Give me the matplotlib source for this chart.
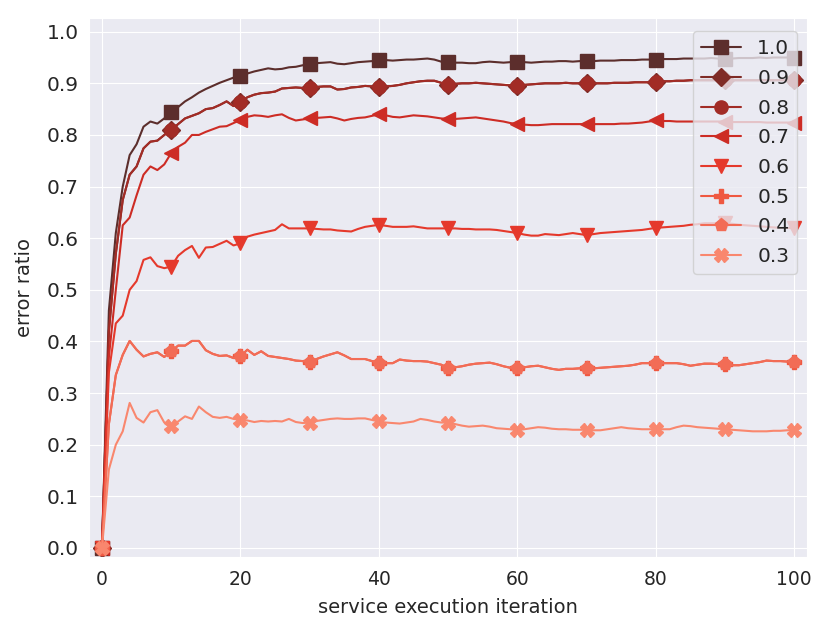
import matplotlib
matplotlib.use("Agg")
import matplotlib.pyplot as plt
import seaborn as sns

# iterations 0..100
iterations = list(range(101))

ratio_10 = [0.0, 0.46, 0.61, 0.70, 0.761, 0.782, 0.816, 0.826, 0.822, 0.832,
            0.845, 0.854, 0.865, 0.873, 0.882, 0.889, 0.895, 0.901, 0.906, 0.911,
            0.914, 0.919, 0.923, 0.926, 0.929, 0.927, 0.928, 0.931, 0.932, 0.935,
            0.937, 0.939, 0.940, 0.941, 0.938, 0.937, 0.939, 0.941, 0.942, 0.943,
            0.945, 0.945, 0.944, 0.945, 0.946, 0.946, 0.947, 0.948, 0.946, 0.942,
            0.941, 0.940, 0.940, 0.939, 0.939, 0.941, 0.942, 0.941, 0.940, 0.941,
            0.942, 0.941, 0.940, 0.941, 0.942, 0.942, 0.943, 0.943, 0.942, 0.943,
            0.943, 0.943, 0.944, 0.944, 0.944, 0.945, 0.945, 0.945, 0.946, 0.946,
            0.946, 0.947, 0.947, 0.947, 0.948, 0.948, 0.948, 0.948, 0.949, 0.948,
            0.948, 0.948, 0.949, 0.949, 0.949, 0.950, 0.949, 0.950, 0.950, 0.950,
            0.950]

ratio_09 = [0.0, 0.42, 0.57, 0.674, 0.723, 0.739, 0.774, 0.787, 0.789, 0.800,
            0.810, 0.821, 0.832, 0.837, 0.842, 0.850, 0.852, 0.858, 0.865, 0.856,
            0.863, 0.873, 0.878, 0.881, 0.882, 0.884, 0.890, 0.891, 0.892, 0.891,
            0.890, 0.893, 0.894, 0.894, 0.888, 0.889, 0.892, 0.893, 0.895, 0.894,
            0.892, 0.894, 0.895, 0.897, 0.900, 0.902, 0.904, 0.905, 0.905, 0.901,
            0.897, 0.899, 0.900, 0.900, 0.901, 0.900, 0.899, 0.898, 0.897, 0.896,
            0.895, 0.897, 0.898, 0.899, 0.900, 0.900, 0.900, 0.901, 0.900, 0.900,
            0.900, 0.900, 0.900, 0.900, 0.901, 0.901, 0.901, 0.902, 0.902, 0.902,
            0.903, 0.904, 0.904, 0.905, 0.905, 0.906, 0.906, 0.906, 0.906, 0.906,
            0.906, 0.906, 0.906, 0.906, 0.906, 0.906, 0.906, 0.906, 0.906, 0.906,
            0.906]

# 0.8 lies exactly on top of 0.9 in the picture
ratio_08 = list(ratio_09)

ratio_07 = [0.0, 0.37, 0.50, 0.625, 0.640, 0.683, 0.723, 0.739, 0.732, 0.743,
            0.765, 0.777, 0.785, 0.800, 0.800, 0.806, 0.811, 0.816, 0.817, 0.823,
            0.829, 0.835, 0.838, 0.837, 0.835, 0.838, 0.840, 0.833, 0.828, 0.830,
            0.832, 0.833, 0.834, 0.835, 0.832, 0.828, 0.831, 0.833, 0.834, 0.837,
            0.840, 0.838, 0.835, 0.834, 0.836, 0.838, 0.837, 0.836, 0.834, 0.832,
            0.831, 0.831, 0.832, 0.833, 0.834, 0.832, 0.830, 0.828, 0.826, 0.823,
            0.821, 0.820, 0.819, 0.819, 0.820, 0.821, 0.821, 0.821, 0.821, 0.821,
            0.821, 0.821, 0.821, 0.821, 0.821, 0.822, 0.822, 0.823, 0.824, 0.826,
            0.828, 0.827, 0.827, 0.826, 0.826, 0.826, 0.826, 0.826, 0.826, 0.826,
            0.826, 0.825, 0.825, 0.825, 0.825, 0.825, 0.824, 0.824, 0.824, 0.824,
            0.824]

ratio_06 = [0.0, 0.34, 0.435, 0.450, 0.500, 0.517, 0.558, 0.563, 0.546, 0.542,
            0.545, 0.566, 0.577, 0.585, 0.562, 0.582, 0.583, 0.589, 0.595, 0.586,
            0.590, 0.603, 0.607, 0.610, 0.613, 0.616, 0.627, 0.619, 0.619, 0.619,
            0.619, 0.618, 0.617, 0.617, 0.615, 0.614, 0.613, 0.618, 0.622, 0.624,
            0.626, 0.624, 0.622, 0.622, 0.622, 0.623, 0.621, 0.619, 0.619, 0.619,
            0.619, 0.619, 0.618, 0.618, 0.617, 0.617, 0.617, 0.616, 0.614, 0.612,
            0.610, 0.607, 0.605, 0.605, 0.608, 0.607, 0.606, 0.608, 0.610, 0.608,
            0.606, 0.608, 0.610, 0.611, 0.612, 0.613, 0.614, 0.615, 0.616, 0.618,
            0.620, 0.621, 0.622, 0.623, 0.624, 0.626, 0.627, 0.629, 0.629, 0.629,
            0.629, 0.628, 0.626, 0.625, 0.624, 0.623, 0.622, 0.621, 0.620, 0.620,
            0.619]

ratio_04 = [0.0, 0.24, 0.335, 0.374, 0.401, 0.384, 0.371, 0.376, 0.379, 0.370,
            0.381, 0.392, 0.392, 0.401, 0.401, 0.383, 0.376, 0.372, 0.373, 0.368,
            0.371, 0.384, 0.374, 0.381, 0.372, 0.370, 0.368, 0.366, 0.363, 0.362,
            0.361, 0.366, 0.371, 0.375, 0.379, 0.373, 0.366, 0.366, 0.366, 0.362,
            0.359, 0.358, 0.358, 0.365, 0.363, 0.362, 0.362, 0.361, 0.358, 0.355,
            0.349, 0.350, 0.352, 0.355, 0.357, 0.358, 0.359, 0.356, 0.352, 0.349,
            0.348, 0.350, 0.352, 0.353, 0.350, 0.347, 0.345, 0.347, 0.347, 0.348,
            0.348, 0.348, 0.349, 0.350, 0.351, 0.352, 0.353, 0.355, 0.358, 0.358,
            0.358, 0.358, 0.358, 0.358, 0.356, 0.353, 0.355, 0.357, 0.357, 0.356,
            0.356, 0.354, 0.354, 0.356, 0.358, 0.360, 0.363, 0.362, 0.362, 0.361,
            0.361]

# 0.5 lies exactly under 0.4
ratio_05 = list(ratio_04)

ratio_03 = [0.0, 0.152, 0.200, 0.226, 0.281, 0.252, 0.243, 0.263, 0.267, 0.243,
            0.237, 0.245, 0.255, 0.250, 0.274, 0.263, 0.254, 0.252, 0.254, 0.250,
            0.248, 0.247, 0.244, 0.246, 0.245, 0.246, 0.245, 0.250, 0.244, 0.242,
            0.243, 0.246, 0.248, 0.250, 0.251, 0.250, 0.250, 0.251, 0.251, 0.248,
            0.245, 0.243, 0.242, 0.241, 0.243, 0.245, 0.250, 0.248, 0.245, 0.243,
            0.243, 0.240, 0.237, 0.235, 0.236, 0.237, 0.235, 0.232, 0.231, 0.230,
            0.228, 0.230, 0.232, 0.234, 0.233, 0.231, 0.230, 0.230, 0.229, 0.229,
            0.229, 0.228, 0.228, 0.230, 0.232, 0.234, 0.232, 0.231, 0.230, 0.230,
            0.230, 0.230, 0.230, 0.234, 0.237, 0.236, 0.234, 0.233, 0.232, 0.231,
            0.230, 0.229, 0.228, 0.227, 0.226, 0.226, 0.226, 0.227, 0.227, 0.228,
            0.228]

labels = ["1.0", "0.9", "0.8", "0.7", "0.6", "0.5", "0.4", "0.3"]
series = [ratio_10, ratio_09, ratio_08, ratio_07, ratio_06, ratio_05, ratio_04, ratio_03]
markers = ["s", "D", "o", "<", "v", "P", "p", "X"]
colors = ["#5c2e2c", "#7f2b26", "#a22c26", "#cd2c25",
          "#e5392c", "#ef5841", "#f26c56", "#f9876e"]

sns.set_style("darkgrid")
plt.rcParams["font.family"] = ["DejaVu Sans"]

fig = plt.figure(figsize=(8.3, 6.34), dpi=100)
ax = fig.add_axes([0.107, 0.121, 0.865, 0.851])

for lab, ys, mk, col in zip(labels, series, markers, colors):
    ax.plot(iterations, ys, color=col, marker=mk, markevery=10,
            markersize=9.5, linewidth=1.5, label=lab)

ax.set_xlim(-1.9, 101.8)
ax.set_ylim(-0.018, 1.027)
ax.set_xticks([0, 20, 40, 60, 80, 100])
ax.set_yticks([i / 10 for i in range(11)])
ax.set_yticklabels(["%.1f" % (i / 10) for i in range(11)])
ax.tick_params(axis="y", labelsize=14.5, colors="#262626")
ax.tick_params(axis="x", labelsize=13.5, colors="#262626", pad=6)
ax.set_xlabel("service execution iteration", fontsize=14, color="#262626",
              labelpad=6)
ax.set_ylabel("error ratio", fontsize=14, color="#262626", labelpad=9)

ax.legend(loc="upper right", bbox_to_anchor=(0.987, 0.975), borderaxespad=0,
          fontsize=14.5, framealpha=0.8, labelspacing=0.53)

fig.savefig("out.png", dpi=100)
